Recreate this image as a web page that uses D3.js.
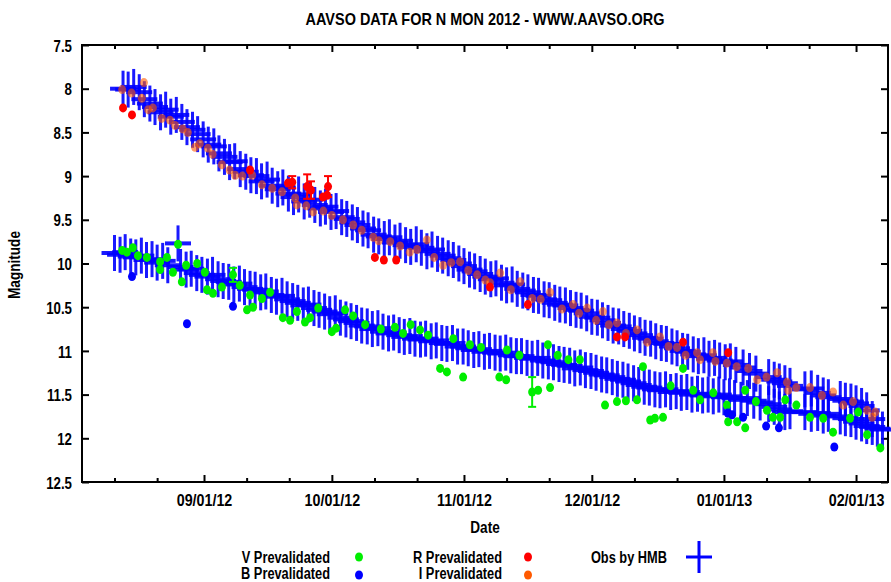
<!DOCTYPE html>
<html><head><meta charset="utf-8">
<script src="https://cdn.jsdelivr.net/npm/d3@7"></script>
<style>
body{margin:0;background:#fff}
text{font-family:"Liberation Sans",Arial,sans-serif;font-weight:bold;font-size:17px;fill:#000}
</style>
</head><body>
<svg id="c" width="891" height="582"></svg>
<script>
// ---------- DATA (d = days since 2012-08-01 00:00 UT, m = magnitude) ----------
const chartTitle = "AAVSO DATA FOR N MON 2012 - WWW.AAVSO.ORG";
const xLabel = "Date";
const yLabel = "Magnitude";
const yTicks = [7.5, 8, 8.5, 9, 9.5, 10, 10.5, 11, 11.5, 12, 12.5];
const yTickLabels = ["7.5","8","8.5","9","9.5","10","10.5","11","11.5","12","12.5"];
const xTickDates = ["2012-09-01","2012-10-01","2012-11-01","2012-12-01","2013-01-01","2013-02-01"];
const xTickLabels = ["09/01/12","10/01/12","11/01/12","12/01/12","01/01/13","02/01/13"];
const xMinorDates = ["2012-08-11","2012-08-21","2012-09-11","2012-09-21","2012-10-11","2012-10-21",
  "2012-11-11","2012-11-21","2012-12-11","2012-12-21","2013-01-11","2013-01-21"];
const legendLabels = ["V Prevalidated","B Prevalidated","R Prevalidated","I Prevalidated","Obs by HMB"];

// V Prevalidated [d, m, err]
const vData = [[11.8,9.85],[12.9,9.87],[14.3,9.82],[15.5,9.91],[17.6,9.93],[20.7,9.98],[22.3,9.93],[24.9,9.78],
 [20.7,10.07],[23.7,10.10],[26.8,10.02],[29.4,10.00],[25.8,10.21],[31.2,10.10],[31.7,10.30],[33.1,10.34],
 [35.2,10.27],[37.8,10.13,0.08],[39.4,10.25],[41.1,10.53],[42.5,10.50],[41.8,10.36],[44.6,10.40],[46.5,10.33],
 [49.5,10.62],[51.2,10.65],[52.8,10.55],[54.7,10.67],[55.9,10.62],[57.8,10.51],[61.0,10.78],[62.0,10.74],
 [64.1,10.53],[66.0,10.60],[68.8,10.70],[72.5,10.75],[75.8,10.73],[77.7,10.80],[79.5,10.70],[81.7,10.76],
 [83.6,10.82],[86.4,11.20],[88.0,11.24],[89.5,10.86],[91.8,11.30],[93.4,10.93],[96.0,10.96],[100.3,11.30],
 [101.9,11.33],[102.1,10.99],[105.0,11.05],[108.0,11.47,0.17],[109.4,11.45],[111.7,10.93],[112.2,11.42],
 [114.0,11.05],[116.5,11.10],[119.2,11.10],[125.1,11.62],[127.9,11.58],[130.0,11.57],[132.6,11.56],
 [134.0,11.18],[135.7,11.79],[136.8,11.77],[138.7,11.76],[140.5,11.40],[143.4,11.20],[145.8,11.45],
 [147.4,11.56],[150.5,11.48],[153.7,11.62],[154.0,11.81],[156.1,11.81],[158.0,11.88],[158.0,11.45],
 [160.5,11.58],[163.1,11.68],[164.5,11.76],[166.2,11.76],[167.4,11.56],[170.0,11.62],[173.2,11.76],
 [176.3,11.77],[178.6,11.93],[182.6,11.77],[184.5,11.70],[186.6,11.96],[189.7,12.11]];

// B Prevalidated
const bData = [[14.1,10.15],[27.0,10.69],[37.8,10.49],[153.9,11.71],[154.9,11.73],[157.5,11.76],
 [162.9,11.86],[165.9,11.88],[178.9,12.10]];

// R Prevalidated [d, m, err]
const rData = [[12.0,8.22],[14.1,8.30],[41.8,8.93],[50.7,9.08],[51.7,9.07,0.07],[55.2,9.12,0.14],
 [56.1,9.16,0.10],[58.9,9.24],[60.1,9.12,0.12],[59.9,9.22],[71.1,9.93],[73.2,9.96],[76.1,9.96],
 [98.1,10.27],[107.0,10.47],[127.9,10.84],[129.8,10.84],[143.4,10.90],[154.0,11.02]];

// I Prevalidated
const iData = [[11.8,8.01],[14.0,8.05],[16.9,7.93],[16.4,8.11],[17.9,8.24],[19.0,8.22],[21.1,8.34],[23.0,8.36],
 [24.2,8.42],[26.0,8.46],[27.2,8.50],[28.9,8.67],[30.0,8.63],[31.9,8.68],[33.0,8.75],[35.2,8.87],[37.0,8.93],
 [38.3,8.99],[40.0,9.00],[42.3,8.99],[44.6,9.10],[47.0,9.14],[49.3,9.18],[52.4,9.25],[52.8,9.33],[55.0,9.34],
 [56.6,9.41],[59.0,9.40],[61.0,9.45],[63.6,9.50],[66.0,9.56],[68.0,9.62],[70.7,9.70],[72.0,9.74],[74.7,9.75],
 [77.0,9.80],[79.3,9.87],[81.0,9.84],[83.3,9.73],[85.0,9.93],[87.1,10.02],[89.0,9.99],[91.1,9.98],[93.0,10.08],
 [95.1,10.13],[97.0,10.19],[98.1,10.22],[100.5,10.11],[103.0,10.30],[105.2,10.21],[108.0,10.40],[110.0,10.41],
 [112.2,10.33],[115.0,10.52],[117.6,10.47],[119.0,10.57],[120.9,10.51],[123.0,10.65],[124.6,10.55],[126.0,10.70],
 [127.9,10.68],[130.0,10.80],[132.6,10.76],[135.0,10.90],[138.0,10.84],[140.0,10.95],[142.0,10.96],[144.0,11.05],
 [146.7,11.02],[147.4,11.10],[150.4,11.02],[151.0,11.12],[153.7,11.14],[156.0,11.18],[158.7,11.20],[160.8,11.33],
 [163.0,11.30],[165.5,11.25],[167.8,11.36],[168.1,11.45],[170.0,11.42],[173.2,11.42],[176.0,11.51],[178.6,11.47],
 [181.0,11.62],[183.3,11.58],[186.6,11.68],[187.8,11.76],[188.5,11.70]];

// Obs by HMB (two filters)
const hmbUpper = [[12.0,8.00],[13.2,8.01],[14.5,7.98],[15.8,8.04],[17.0,8.12],[18.3,8.17],[19.5,8.21],[20.8,8.27],
 [22.0,8.24],[23.2,8.32],[24.5,8.30],[25.8,8.38],[27.0,8.44],[28.3,8.47],[29.5,8.52],[30.8,8.58],[32.0,8.64],
 [33.3,8.66],[34.5,8.74],[35.8,8.78],[37.0,8.84],[38.2,8.83],[39.5,8.92],[40.8,8.95],[42.0,8.99],[43.3,9.00],
 [44.5,9.06],[45.8,9.04],[47.0,9.11],[48.3,9.15],[49.5,9.13],[50.8,9.20],[52.0,9.24],[53.2,9.21],[54.5,9.29],
 [55.8,9.27],[57.0,9.33],[58.3,9.37],[59.5,9.35],[60.8,9.41],[62.0,9.40],[63.3,9.47],[64.5,9.49],[65.8,9.53],
 [67.0,9.56],[68.3,9.60],[69.5,9.62],[70.8,9.67],[72.0,9.69],[73.3,9.72],[74.5,9.70],[75.8,9.76],[77.0,9.74],
 [78.3,9.79],[79.5,9.81],[80.8,9.78],[82.0,9.82],[83.3,9.86],[84.5,9.84],[85.8,9.89],[87.0,9.91],[88.3,9.94],
 [89.5,9.96],[90.8,10.00],[92.0,10.03],[93.3,10.07],[94.5,10.09],[95.8,10.12],[97.0,10.15],[98.3,10.18],
 [99.5,10.17],[100.8,10.22],[102.0,10.25],[103.3,10.24],[104.5,10.29],[105.8,10.31],[107.0,10.33],[108.3,10.36],
 [109.5,10.37],[110.8,10.41],[112.0,10.42],[113.3,10.45],[114.5,10.47],[115.8,10.48],[117.0,10.51],[118.3,10.53],
 [119.5,10.54],[120.8,10.57],[122.0,10.61],[123.3,10.62],[124.5,10.65],[125.8,10.68],[127.0,10.71],[128.3,10.72],
 [129.5,10.75],[130.8,10.77],[132.0,10.80],[133.3,10.82],[134.5,10.85],[135.8,10.86],[137.0,10.89],[138.3,10.91],
 [139.5,10.92],[140.8,10.95],[142.0,10.97],[143.3,11.00],[144.5,11.01],[145.8,11.04],[147.0,11.06],[148.3,11.05],
 [149.5,11.09],[150.8,11.08],[152.0,11.11],[153.3,11.13],[154.5,11.12],[155.8,11.16],[157.5,11.19],[159.0,11.23],
 [160.5,11.26],[163.5,11.30],[164.8,11.33],[166.0,11.35],[167.3,11.37],[168.5,11.40],[172.0,11.44],[173.5,11.43],
 [175.0,11.48],[176.3,11.51],[177.5,11.53],[180.3,11.55],[181.5,11.57],[182.8,11.58],[184.0,11.60],[185.3,11.63],
 [186.5,11.68],[187.8,11.78]];

const hmbLower = [[10.0,9.88],[11.3,9.90],[12.5,9.87],[13.8,9.92],[15.0,9.93],[16.3,9.91],[17.5,9.96],[18.8,9.95],
 [20.0,9.99],[21.3,9.97],[22.5,10.02],[24.9,9.77],[25.5,10.04],[26.8,10.07],[28.0,10.06],[29.3,10.11],[30.5,10.13],
 [31.8,10.15],[33.0,10.13],[34.3,10.18],[35.5,10.20],[36.8,10.21],[38.0,10.24],[39.3,10.23],[40.5,10.27],
 [41.8,10.29],[43.0,10.30],[44.3,10.33],[45.5,10.32],[46.8,10.36],[48.0,10.38],[49.3,10.37],[50.5,10.41],
 [51.8,10.43],[53.0,10.45],[54.3,10.48],[55.5,10.47],[56.8,10.51],[58.0,10.53],[59.3,10.55],[60.5,10.58],
 [61.8,10.57],[63.0,10.62],[64.3,10.64],[65.5,10.66],[66.8,10.68],[68.0,10.71],[69.3,10.72],[70.5,10.75],
 [71.8,10.74],[73.0,10.78],[74.3,10.80],[75.5,10.79],[76.8,10.82],[78.0,10.84],[79.3,10.83],[80.5,10.86],
 [81.8,10.87],[83.0,10.86],[84.3,10.89],[85.5,10.88],[86.8,10.91],[88.0,10.92],[89.3,10.91],[90.5,10.95],
 [91.8,10.95],[93.0,10.97],[94.3,10.99],[95.5,10.98],[96.8,11.01],[98.0,11.00],[99.3,11.02],[100.5,11.03],
 [101.8,11.02],[103.0,11.05],[104.3,11.06],[105.5,11.06],[106.8,11.08],[108.0,11.09],[109.3,11.08],[110.5,11.11],
 [111.8,11.12],[113.0,11.13],[114.3,11.15],[115.5,11.16],[116.8,11.17],[118.0,11.20],[119.3,11.19],[120.5,11.22],
 [121.8,11.23],[123.0,11.25],[124.3,11.27],[125.5,11.28],[126.8,11.30],[128.0,11.32],[129.3,11.33],[130.5,11.35],
 [131.8,11.37],[133.0,11.39],[134.3,11.41],[135.5,11.42],[136.8,11.44],[138.0,11.45],[139.3,11.44],[140.5,11.47],
 [141.8,11.46],[143.0,11.48],[144.3,11.47],[145.5,11.50],[146.8,11.49],[148.0,11.51],[149.3,11.50],[150.5,11.52],
 [151.8,11.50],[153.0,11.53],[154.3,11.52],[155.5,11.54],[157.0,11.56],[158.5,11.54],[160.0,11.57],[161.5,11.59],
 [163.5,11.61],[164.8,11.64],[166.0,11.67],[167.3,11.70],[168.5,11.69],[172.0,11.70],[173.5,11.72],[175.0,11.71],
 [176.3,11.74],[177.5,11.72],[180.3,11.75],[181.5,11.77],[182.8,11.78],[184.0,11.81],[185.3,11.83],[186.5,11.86],
 [187.8,11.87],[189.0,11.89],[190.2,11.90]];

// ---------- CHART ----------
const svg = d3.select("#c");
const M = {l: 82, r: 888, t: 45, b: 482};
const day = d => new Date(Date.UTC(2012, 7, 1) + d * 864e5);
const parse = s => new Date(s + "T00:00:00Z");
const x = d3.scaleUtc().domain([day(2.37), day(191.5)]).range([M.l, M.r]);
const y = d3.scaleLinear().domain([7.5, 12.5]).range([M.t, M.b]);

const COL = {V: "#00ee00", B: "#0000ff", R: "#ff0000", I: "#ff5a00", H: "#0000ff"};

function squeeze(sel, k) {
  sel.each(function() {
    const w = this.getComputedTextLength();
    d3.select(this).attr("textLength", w * k).attr("lengthAdjust", "spacingAndGlyphs");
  });
}

// axes (ticks inward)
const majors = xTickDates.map(parse), minors = xMinorDates.map(parse);
function styleAxis(g) {
  g.attr("font-family", null).attr("font-size", null);
  g.select(".domain").remove();
  g.selectAll(".tick line").attr("stroke", "#000").attr("stroke-width", 2);
}
const gB = svg.append("g").attr("transform", `translate(0,${M.b})`)
  .call(d3.axisBottom(x).tickValues(majors).tickSize(-7).tickFormat((d, i) => xTickLabels[i]));
styleAxis(gB);
gB.selectAll("text").attr("y", 24).attr("dy", null);
const gBm = svg.append("g").attr("transform", `translate(0,${M.b})`)
  .call(d3.axisBottom(x).tickValues(minors).tickSize(-4).tickFormat(""));
styleAxis(gBm);
const gT = svg.append("g").attr("transform", `translate(0,${M.t})`)
  .call(d3.axisTop(x).tickValues(majors).tickSize(-7).tickFormat(""));
styleAxis(gT);
const gTm = svg.append("g").attr("transform", `translate(0,${M.t})`)
  .call(d3.axisTop(x).tickValues(minors).tickSize(-4).tickFormat(""));
styleAxis(gTm);
const gL = svg.append("g").attr("transform", `translate(${M.l},0)`)
  .call(d3.axisLeft(y).tickValues(yTicks).tickSize(-7).tickFormat((d, i) => yTickLabels[i]));
styleAxis(gL);
gL.selectAll("text").attr("x", -10).attr("dy", "0.36em");
const gR = svg.append("g").attr("transform", `translate(${M.r},0)`)
  .call(d3.axisRight(y).tickValues(yTicks).tickSize(-7).tickFormat(""));
styleAxis(gR);
squeeze(gB.selectAll("text"), 0.84);
squeeze(gL.selectAll("text"), 0.78);

// frame
svg.append("rect").attr("x", M.l).attr("y", M.t).attr("width", M.r - M.l).attr("height", M.b - M.t)
  .attr("fill", "none").attr("stroke", "#000").attr("stroke-width", 2);

// data layer
const plot = svg.append("g");
function errBars(data, color) {
  const e = data.filter(p => p[2]);
  const g = plot.append("g").attr("stroke", color).attr("stroke-width", 2);
  e.forEach(p => {
    const cx = x(day(p[0])), y1 = y(p[1] - p[2]), y2 = y(p[1] + p[2]);
    g.append("line").attr("x1", cx).attr("x2", cx).attr("y1", y1).attr("y2", y2);
    g.append("line").attr("x1", cx - 4).attr("x2", cx + 4).attr("y1", y1).attr("y2", y1);
    g.append("line").attr("x1", cx - 4).attr("x2", cx + 4).attr("y1", y2).attr("y2", y2);
  });
}
function dots(data, color, op) {
  plot.append("g").attr("fill-opacity", op || 1).selectAll("ellipse").data(data).join("ellipse")
    .attr("cx", p => x(day(p[0]))).attr("cy", p => y(p[1]))
    .attr("rx", 4).attr("ry", 4.5).attr("fill", color);
}
function pluses(data, color) {
  const g = plot.append("g").attr("stroke", color).attr("stroke-opacity", 0.9);
  data.forEach(p => {
    const cx = x(day(p[0])), cy = y(p[1]);
    g.append("line").attr("x1", cx - 13).attr("x2", cx + 13).attr("y1", cy).attr("y2", cy).attr("stroke-width", 4);
    g.append("line").attr("x1", cx).attr("x2", cx).attr("y1", cy - 18).attr("y2", cy + 18).attr("stroke-width", 3);
  });
}
pluses(hmbUpper, COL.H);
pluses(hmbLower, COL.H);
dots(iData, COL.I, 0.6);
errBars(vData, COL.V); dots(vData, COL.V);
dots(bData, COL.B);
errBars(rData, COL.R); dots(rData, COL.R);

// titles
const tt = svg.append("text").attr("x", 485).attr("y", 25).attr("text-anchor", "middle").text(chartTitle);
squeeze(tt, 0.85);
const xl = svg.append("text").attr("x", 485).attr("y", 533).attr("text-anchor", "middle").text(xLabel);
squeeze(xl, 0.8);
const yl = svg.append("text").attr("transform", "translate(20,265) rotate(-90)").attr("text-anchor", "middle").text(yLabel);
squeeze(yl, 0.8);

// legend
const leg = svg.append("g").style("font-size", "16px");
const legItems = [
  {t: legendLabels[0], tx: 330, ty: 563, mx: 359, my: 557, c: COL.V, k: "dot"},
  {t: legendLabels[1], tx: 330, ty: 579, mx: 359, my: 575, c: COL.B, k: "dot"},
  {t: legendLabels[2], tx: 502, ty: 563, mx: 528, my: 557, c: COL.R, k: "dot"},
  {t: legendLabels[3], tx: 502, ty: 579, mx: 528, my: 575, c: COL.I, k: "dot"},
  {t: legendLabels[4], tx: 667, ty: 563, mx: 699, my: 557, c: COL.H, k: "plus"}
];
legItems.forEach(it => {
  const t = leg.append("text").attr("x", it.tx).attr("y", it.ty).attr("text-anchor", "end")
    .style("font-size", "16px").text(it.t);
  squeeze(t, 0.8);
  if (it.k === "dot") {
    leg.append("ellipse").attr("cx", it.mx).attr("cy", it.my).attr("rx", 4).attr("ry", 4.5).attr("fill", it.c);
  } else {
    leg.append("line").attr("x1", it.mx - 13).attr("x2", it.mx + 13).attr("y1", it.my).attr("y2", it.my).attr("stroke", it.c).attr("stroke-width", 3);
    leg.append("line").attr("x1", it.mx).attr("x2", it.mx).attr("y1", it.my - 16).attr("y2", it.my + 16).attr("stroke", it.c).attr("stroke-width", 3);
  }
});
</script>
</body></html>
